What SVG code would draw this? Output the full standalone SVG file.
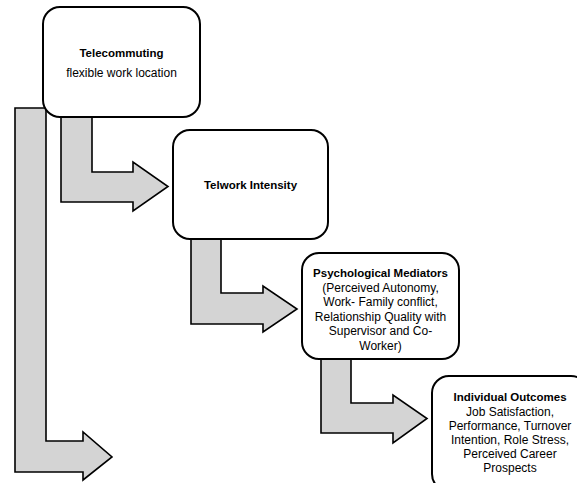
<svg xmlns="http://www.w3.org/2000/svg" width="577" height="483" viewBox="0 0 577 483">
<style>
.arrow{fill:#d4d4d4;stroke:#000;stroke-width:1.6;stroke-linejoin:miter}
.box{fill:#fff;stroke:#000;stroke-width:2}
text{font-family:"Liberation Sans",Arial,sans-serif;font-size:12px;fill:#000;text-anchor:middle}
.b{font-weight:bold;font-size:11.5px}
</style>
<rect width="577" height="483" fill="#fff"/>
<g id="connectors">
<path class="arrow" d="M15,108 L46,108 L46,441 L83,441 L83,432 L112,457 L83,480 L83,472 L15,472 Z"/>
<path class="arrow" d="M61,110 L92,110 L92,172 L133,172 L133,162 L168,186.5 L133,211 L133,202 L61,202 Z"/>
<path class="arrow" d="M191,232 L221,232 L221,293 L263,293 L263,286 L297,309 L263,332 L263,324 L191,324 Z"/>
<path class="arrow" d="M321,352 L351,352 L351,403 L393,403 L393,395 L427,418.5 L393,443 L393,433 L321,433 Z"/>
</g>
<g id="telecommuting">
<rect class="box" x="43" y="7" width="157" height="110" rx="17"/>
<text class="b" x="121.5" y="57">Telecommuting</text>
<text x="121.5" y="77">flexible work location</text>
</g>
<g id="telwork">
<rect class="box" x="173" y="130" width="155" height="109" rx="17"/>
<text class="b" x="250.5" y="189">Telwork Intensity</text>
</g>
<g id="mediators">
<rect class="box" x="302" y="253" width="157" height="106" rx="17"/>
<text class="b" x="380.5" y="277">Psychological Mediators</text>
<text x="380.5" y="291.5">(Perceived Autonomy,</text>
<text x="380.5" y="306">Work- Family conflict,</text>
<text x="380.5" y="320.5">Relationship Quality with</text>
<text x="380.5" y="335">Supervisor and Co-</text>
<text x="380.5" y="349.5">Worker)</text>
</g>
<g id="outcomes">
<rect class="box" x="432" y="376" width="156" height="115" rx="17"/>
<text class="b" x="510" y="401">Individual Outcomes</text>
<text x="510" y="415.5">Job Satisfaction,</text>
<text x="510" y="429.5">Performance, Turnover</text>
<text x="510" y="444">Intention, Role Stress,</text>
<text x="510" y="458">Perceived Career</text>
<text x="510" y="472">Prospects</text>
</g>
</svg>
